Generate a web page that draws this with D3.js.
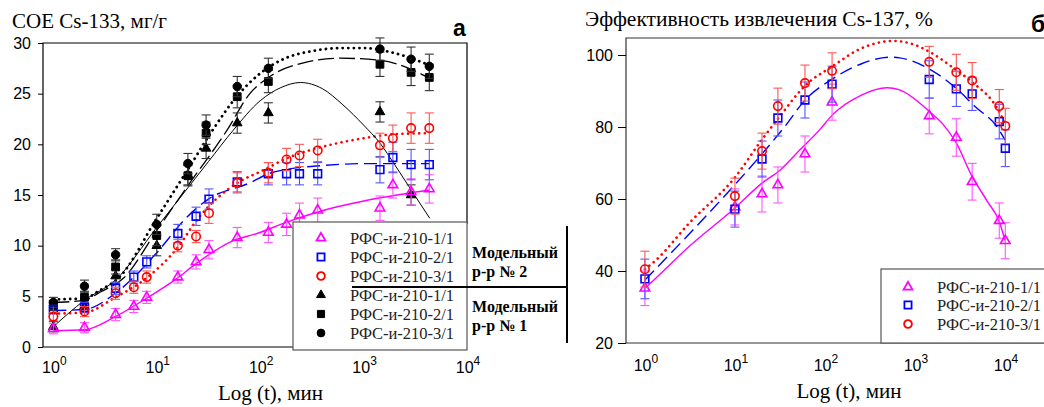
<!DOCTYPE html>
<html>
<head>
<meta charset="utf-8">
<script src="https://cdn.jsdelivr.net/npm/d3@7"></script>
<style>
body { margin: 0; background: #fff; }
svg { display: block; }
</style>
</head>
<body>
<svg id="chart" width="1044" height="407"></svg>
<script>

// ---------- panel a : COE Cs-133, mg/g ----------
var tA = [1, 2, 4, 6, 8, 16, 24, 32, 60, 120, 180, 240, 360, 1440, 1920, 2880, 4320];
var a_m2_1 = [1.8, 1.9, 3.2, 4.0, 4.9, 6.9, 8.4, 9.6, 10.8, 11.3, 12.1, 13.0, 13.5, 13.7, 16.0, 15.3, 15.6];
var a_m2_1_err = [0.5, 0.5, 0.6, 0.6, 0.6, 0.6, 0.7, 0.9, 1.0, 1.0, 1.1, 1.2, 1.2, 1.2, 1.3, 1.3, 1.4];
var a_m2_2 = [3.7, 3.9, 5.8, 6.9, 8.4, 11.2, 12.9, 14.6, 16.3, 17.1, 17.1, 17.1, 17.1, 17.5, 18.7, 18.0, 18.0];
var a_m2_2_err = [0.4, 0.5, 0.6, 0.6, 0.6, 0.9, 0.9, 1.0, 1.0, 1.1, 1.1, 1.1, 1.1, 1.3, 1.5, 1.5, 1.5];
var a_m2_3 = [3.0, 3.5, 5.3, 5.9, 6.9, 10.0, 10.9, 13.2, 16.2, 17.2, 18.5, 18.9, 19.4, 19.9, 20.6, 21.6, 21.6];
var a_m2_3_err = [0.4, 0.5, 0.6, 0.6, 0.6, 0.6, 0.6, 1.0, 1.0, 1.0, 1.1, 1.1, 1.1, 1.2, 1.3, 1.5, 1.5];

var tA1 = [1, 2, 4, 10, 20, 30, 60, 120, 1440, 2880, 4320];
var a_m1_1 = [2.0, 4.0, 7.0, 10.0, 17.0, 19.6, 22.1, 23.1, 23.2, 15.0];
var a_m1_1_err = [0.5, 0.6, 0.7, 1.0, 1.0, 1.0, 1.0, 1.0, 1.0, 1.0];
var a_m1_2 = [4.1, 4.9, 7.9, 11.0, 16.9, 21.1, 24.7, 26.2, 27.9, 27.1, 26.6];
var a_m1_2_err = [0.5, 0.6, 0.7, 1.0, 1.0, 1.1, 1.1, 1.1, 1.2, 1.3, 1.3];
var a_m1_3 = [4.4, 6.0, 9.1, 12.1, 18.1, 21.9, 25.7, 27.5, 29.4, 28.4, 27.7];
var a_m1_3_err = [0.5, 0.6, 0.6, 1.0, 1.0, 1.0, 1.0, 1.0, 1.1, 1.2, 1.2];

// fitted curves (log10 t, value)
var fitA_m2_1_lg = [0, 0.3, 0.6, 0.9, 1.2, 1.39, 1.74, 1.97, 2.25, 2.55, 3.15, 3.64];
var fitA_m2_1_v  = [1.6, 1.7, 3.0, 4.8, 6.8, 8.3, 10.5, 11.2, 12.3, 13.3, 14.7, 15.5];
var fitA_m2_2_lg = [0, 0.3, 0.6, 0.78, 1, 1.29, 1.5, 1.9, 2.08, 2.3, 2.6, 3.0, 3.64];
var fitA_m2_2_v  = [3.6, 3.7, 5.3, 6.9, 9.3, 12.8, 14.6, 16.2, 17.1, 17.6, 17.9, 18.1, 18.1];
var fitA_m2_3_lg = [0, 0.3, 0.6, 0.9, 1.2, 1.4, 1.78, 2.0, 2.3, 2.58, 3.0, 3.3, 3.64];
var fitA_m2_3_v  = [3.3, 3.4, 4.9, 6.8, 9.8, 12.7, 16.2, 17.3, 18.8, 19.7, 20.6, 21.0, 21.1];
var fitA_m1_1_lg = [0, 0.3, 0.6, 1, 1.3, 1.5, 1.74, 2.0, 2.2, 2.39, 2.6, 2.8, 3.0, 3.16, 3.3, 3.46, 3.64];
var fitA_m1_1_v  = [2.0, 4.6, 6.6, 11.8, 15.7, 18.3, 21.4, 24.3, 25.6, 26.1, 25.5, 23.9, 21.9, 20.1, 18.0, 15.5, 12.7];
var fitA_m1_2_lg = [0, 0.3, 0.45, 0.68, 1, 1.3, 1.68, 1.9, 2.08, 2.4, 2.77, 3.16, 3.46, 3.64];
var fitA_m1_2_v  = [4.4, 4.6, 5.4, 6.8, 11.5, 15.9, 21.4, 25.0, 26.6, 28.0, 28.5, 28.3, 27.4, 26.5];
var fitA_m1_3_lg = [0, 0.3, 0.45, 0.63, 1, 1.3, 1.54, 1.78, 2.0, 2.2, 2.5, 2.8, 3.0, 3.3, 3.64];
var fitA_m1_3_v  = [4.7, 4.8, 5.6, 6.8, 12.7, 17.5, 21.4, 24.8, 27.0, 28.3, 29.2, 29.5, 29.5, 29.0, 27.8];

var yTicksA = [0, 5, 10, 15, 20, 25, 30];

// ---------- panel б : extraction efficiency Cs-137, % ----------
var tB = [1, 10, 20, 30, 60, 120, 1440, 2880, 4320, 8640, 10080];
var b_1 = [35.2, 57.8, 61.4, 63.9, 72.5, 86.9, 83.1, 77.1, 64.8, 54.0, 48.4];
var b_1_err = [4.8, 5, 5, 5, 5, 5, 5, 5.2, 5.1, 4.9, 5];
var b_2 = [37.8, 57.2, 71.1, 82.5, 87.5, 91.9, 93.2, 90.6, 89.2, 81.5, 74.1];
var b_2_err = [5.5, 5, 5, 5, 5, 5, 5.2, 4.9, 4.6, 4.8, 5.1];
var b_3 = [40.5, 60.8, 73.3, 85.8, 92.2, 95.6, 98.1, 95.2, 92.9, 85.8, 80.3];
var b_3_err = [5, 5, 5, 5, 5, 5, 4.3, 5, 5, 4.6, 4.9];

var fitB_1_lg = [0, 0.1, 0.5, 1, 1.3, 1.5, 1.72, 1.94, 2.08, 2.4, 2.69, 2.83, 3.16, 3.31, 3.46, 3.63, 3.8, 3.94, 4.0];
var fitB_1_v  = [35.2, 37.5, 47, 57.5, 64.4, 68, 73.6, 79.2, 83.3, 88.8, 90.9, 90.3, 84.3, 80.8, 75.5, 66.5, 59.5, 53.5, 48.5];
var fitB_2_lg = [0, 0.5, 1, 1.3, 1.55, 1.78, 2.08, 2.4, 2.72, 2.83, 3.18, 3.46, 3.67, 3.91, 4.0];
var fitB_2_v  = [37.5, 50.5, 64, 72.5, 80, 87.5, 93.3, 97.5, 99.4, 99.2, 95.8, 90.7, 85.6, 80.1, 76.4];
var fitB_3_lg = [0, 0.1, 0.5, 1, 1.3, 1.5, 1.78, 2.08, 2.4, 2.76, 3.0, 3.16, 3.46, 3.63, 3.93, 4.0];
var fitB_3_v  = [40.5, 42.5, 53.5, 66, 76.5, 83, 91.5, 96.8, 101.8, 103.9, 102.8, 100.9, 95.8, 92.6, 84.5, 81];

var yTicksB = [20, 40, 60, 80, 100];
var xTicks = [1, 10, 100, 1000, 10000];

var legendNames = ["РФС-и-210-1/1", "РФС-и-210-2/1", "РФС-и-210-3/1"];

var MAG = "#ff00ff", BLU = "#0000ff", RED = "#ff0000", BLK = "#000000";
var SERIF = "'Liberation Serif', 'Times New Roman', serif";
var SANS = "'Liberation Sans', Arial, sans-serif";

var svg = d3.select("#chart");

// scales
var xA = d3.scaleLog().domain([Math.pow(10, -0.1), 1e4]).range([43, 467]);
var yA = d3.scaleLinear().domain([0, 30]).range([347, 43]);
var xB = d3.scaleLog().domain([Math.pow(10, -0.21), Math.pow(10, 4.5)]).range([626, 1050]);
var yB = d3.scaleLinear().domain([20, 105]).range([343, 37]);

var symType = { tri: d3.symbolTriangle, sq: d3.symbolSquare, circ: d3.symbolCircle };
var symSize = { tri: 40, sq: 60, circ: 56 };

function drawFit(g, x, y, lg, v, color, dash, width)
{
	var pts = lg.map(function (d, i) { return [Math.pow(10, d), v[i]]; });
	var line = d3.line()
		.x(function (d) { return x(d[0]); })
		.y(function (d) { return y(d[1]); })
		.curve(d3.curveMonotoneX);
	g.append("path")
		.attr("d", line(pts))
		.attr("fill", "none")
		.attr("stroke", color)
		.attr("stroke-width", width)
		.attr("stroke-linecap", dash === "dot" ? "round" : "butt")
		.attr("stroke-dasharray", dash === "dot" ? "0.1,5.5" : dash);
}

function drawSeries(g, x, y, t, v, err, sym, color, filled, errColor)
{
	var data = v.map(function (d, i) { return { t: t[i], v: d, e: err[i] }; });
	var cap = 4.5;

	var eb = g.append("g").attr("stroke", errColor).attr("stroke-width", 1.1);
	data.forEach(function (d) {
		var px = x(d.t), y0 = y(d.v - d.e), y1 = y(d.v + d.e);
		eb.append("line").attr("x1", px).attr("x2", px).attr("y1", y0).attr("y2", y1);
		eb.append("line").attr("x1", px - cap).attr("x2", px + cap).attr("y1", y0).attr("y2", y0);
		eb.append("line").attr("x1", px - cap).attr("x2", px + cap).attr("y1", y1).attr("y2", y1);
	});

	g.selectAll(null)
		.data(data)
		.enter()
		.append("path")
		.attr("d", d3.symbol().type(symType[sym]).size(symSize[sym]))
		.attr("transform", function (d) { return "translate(" + x(d.t) + "," + y(d.v) + ")"; })
		.attr("fill", filled ? color : "none")
		.attr("stroke", color)
		.attr("stroke-width", filled ? 1 : 1.6);
}

function drawYAxis(g, y, ticks, x0, tickLen, pad)
{
	var ax = d3.axisLeft(y).tickValues(ticks).tickSize(tickLen).tickPadding(pad);
	var gg = g.append("g").attr("transform", "translate(" + x0 + ",0)").call(ax);
	gg.select(".domain").remove();
	gg.selectAll("text")
		.attr("font-family", SANS)
		.attr("font-size", 16)
		.attr("fill", "#000");
	gg.selectAll("line").attr("stroke", "#000");
}

function drawXLabels(g, x, ticks, yBase)
{
	ticks.forEach(function (t) {
		var txt = g.append("text")
			.attr("x", x(t) + 1)
			.attr("y", yBase)
			.attr("text-anchor", "middle")
			.attr("font-family", SANS)
			.attr("font-size", 16)
			.attr("fill", "#000");
		txt.append("tspan").text("10");
		txt.append("tspan")
			.attr("dy", -8)
			.attr("font-size", 12)
			.text(String(Math.round(Math.log10(t))));
	});
}

function legendEntry(g, x, y, sym, color, filled, label)
{
	g.append("path")
		.attr("d", d3.symbol().type(symType[sym]).size(symSize[sym] * 0.85))
		.attr("transform", "translate(" + x + "," + y + ")")
		.attr("fill", filled ? color : "none")
		.attr("stroke", color)
		.attr("stroke-width", filled ? 1 : 1.8);
	g.append("text")
		.attr("x", x + 29)
		.attr("y", y + 6)
		.attr("font-family", SERIF)
		.attr("font-size", 16.5)
		.attr("fill", "#222")
		.text(label);
}

// =================== panel a ===================
var gA = svg.append("g");

gA.append("text").attr("x", 12).attr("y", 28)
	.attr("font-family", SERIF).attr("font-size", 21)
	.attr("textLength", 155).attr("lengthAdjust", "spacingAndGlyphs")
	.text("COE Cs-133, мг/г");
gA.append("text").attr("x", 453).attr("y", 36)
	.attr("font-family", SANS).attr("font-size", 23).attr("font-weight", "bold").text("a");

drawFit(gA, xA, yA, fitA_m2_1_lg, fitA_m2_1_v, MAG, "none", 1.4);
drawFit(gA, xA, yA, fitA_m2_2_lg, fitA_m2_2_v, BLU, "13,6", 1.4);
drawFit(gA, xA, yA, fitA_m2_3_lg, fitA_m2_3_v, RED, "dot", 2.6);
drawFit(gA, xA, yA, fitA_m1_1_lg, fitA_m1_1_v, BLK, "none", 1);
drawFit(gA, xA, yA, fitA_m1_2_lg, fitA_m1_2_v, BLK, "16,5", 1.3);
drawFit(gA, xA, yA, fitA_m1_3_lg, fitA_m1_3_v, BLK, "dot", 2.8);

drawSeries(gA, xA, yA, tA1, a_m1_1, a_m1_1_err, "tri", BLK, true, "#333");
drawSeries(gA, xA, yA, tA1, a_m1_2, a_m1_2_err, "sq", BLK, true, "#333");
drawSeries(gA, xA, yA, tA1, a_m1_3, a_m1_3_err, "circ", BLK, true, "#333");
drawSeries(gA, xA, yA, tA, a_m2_1, a_m2_1_err, "tri", MAG, false, "#ff55ff");
drawSeries(gA, xA, yA, tA, a_m2_2, a_m2_2_err, "sq", BLU, false, "#5555ff");
drawSeries(gA, xA, yA, tA, a_m2_3, a_m2_3_err, "circ", RED, false, "#ff5555");

// frame
gA.append("path")
	.attr("d", "M43,347V43H467V224")
	.attr("fill", "none").attr("stroke", "#000").attr("stroke-width", 1.2);
gA.append("line").attr("x1", 43).attr("x2", 293).attr("y1", 347).attr("y2", 347)
	.attr("stroke", "#000").attr("stroke-width", 1.2);

drawYAxis(gA, yA, yTicksA, 43, 5, 7);
drawXLabels(gA, xA, xTicks, 373);

gA.append("text").attr("x", xA(Math.pow(10, 2.1))).attr("y", 400)
	.attr("text-anchor", "middle")
	.attr("font-family", SERIF).attr("font-size", 21).text("Log (t), мин");

// legend a
var legA = gA.append("g");
legA.append("rect").attr("x", 293).attr("y", 222).attr("width", 174).attr("height", 128)
	.attr("fill", "#fff").attr("stroke", "#555").attr("stroke-width", 1.2);
var legAy = [238, 257, 276, 295, 314, 333];
legendEntry(legA, 321, legAy[0], "tri", MAG, false, legendNames[0]);
legendEntry(legA, 321, legAy[1], "sq", BLU, false, legendNames[1]);
legendEntry(legA, 321, legAy[2], "circ", RED, false, legendNames[2]);
legendEntry(legA, 321, legAy[3], "tri", BLK, true, legendNames[0]);
legendEntry(legA, 321, legAy[4], "sq", BLK, true, legendNames[1]);
legendEntry(legA, 321, legAy[5], "circ", BLK, true, legendNames[2]);

// brackets "Модельный р-р"
gA.append("line").attr("x1", 352).attr("x2", 567).attr("y1", 287).attr("y2", 287)
	.attr("stroke", "#000").attr("stroke-width", 2);
gA.append("line").attr("x1", 567).attr("x2", 567).attr("y1", 226).attr("y2", 343)
	.attr("stroke", "#000").attr("stroke-width", 2);
[["Модельный", 258], ["р-р № 2", 277], ["Модельный", 312], ["р-р № 1", 331]].forEach(function (d) {
	gA.append("text").attr("x", 472).attr("y", d[1])
		.attr("font-family", SERIF).attr("font-size", 16).attr("font-weight", "bold")
		.text(d[0]);
});

// =================== panel б ===================
var gB = svg.append("g");

gB.append("text").attr("x", 585).attr("y", 26)
	.attr("font-family", SERIF).attr("font-size", 21)
	.attr("textLength", 348).attr("lengthAdjust", "spacingAndGlyphs")
	.text("Эффективность извлечения Cs-137, %");
gB.append("text").attr("x", 1031).attr("y", 32)
	.attr("font-family", SANS).attr("font-size", 23).attr("font-weight", "bold").text("б");

drawFit(gB, xB, yB, fitB_1_lg, fitB_1_v, MAG, "none", 1.4);
drawFit(gB, xB, yB, fitB_2_lg, fitB_2_v, BLU, "13,6", 1.4);
drawFit(gB, xB, yB, fitB_3_lg, fitB_3_v, RED, "dot", 2.6);

drawSeries(gB, xB, yB, tB, b_1, b_1_err, "tri", MAG, false, "#ff55ff");
drawSeries(gB, xB, yB, tB, b_2, b_2_err, "sq", BLU, false, "#5555ff");
drawSeries(gB, xB, yB, tB, b_3, b_3_err, "circ", RED, false, "#ff5555");

gB.append("path")
	.attr("d", "M1044,38H626V343H1044")
	.attr("fill", "none").attr("stroke", "#333").attr("stroke-width", 1.2);

drawYAxis(gB, yB, yTicksB, 626, 8, 5);
drawXLabels(gB, xB, xTicks, 371);

gB.append("text").attr("x", 849).attr("y", 398)
	.attr("text-anchor", "middle")
	.attr("font-family", SERIF).attr("font-size", 21).text("Log (t), мин");

var legB = gB.append("g");
legB.append("rect").attr("x", 881).attr("y", 269).attr("width", 200).attr("height", 74)
	.attr("fill", "#fff").attr("stroke", "#555").attr("stroke-width", 1.2);
legendEntry(legB, 908, 287, "tri", MAG, false, legendNames[0]);
legendEntry(legB, 908, 305, "sq", BLU, false, legendNames[1]);
legendEntry(legB, 908, 324, "circ", RED, false, legendNames[2]);

</script>
</body>
</html>
